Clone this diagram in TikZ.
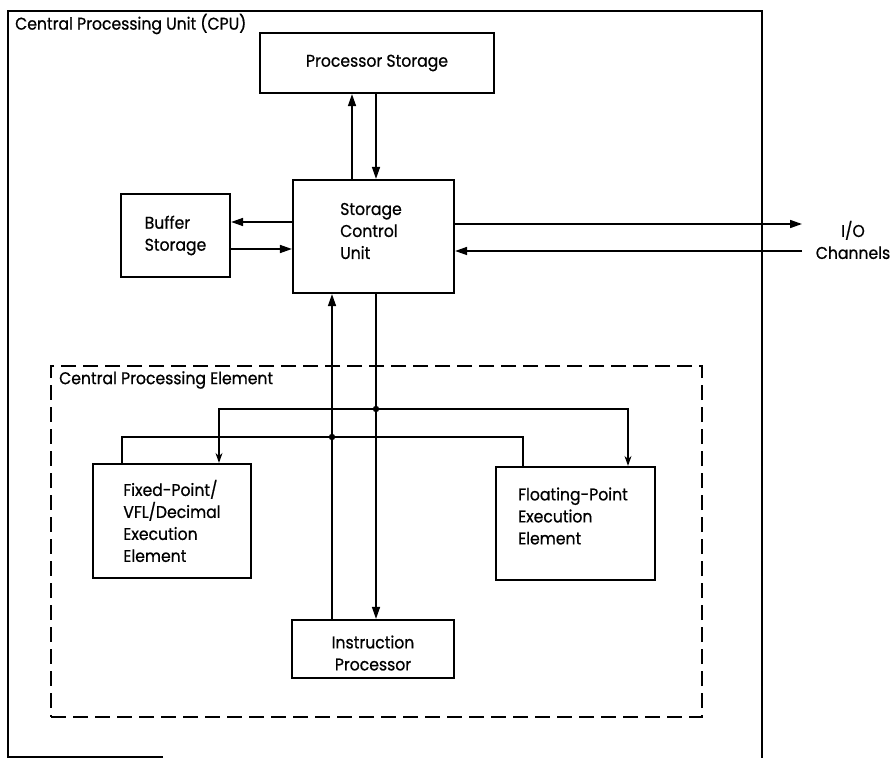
\documentclass[tikz,border=0pt]{standalone}
\usepackage{fontspec}
\setmainfont{Poppins}[FakeBold=0.7, FakeStretch=0.92]
\usetikzlibrary{arrows.meta}
\begin{document}
\begin{tikzpicture}[x=1pt,y=-1pt,
  font=\fontsize{17}{22}\selectfont,
  box/.style={draw, line width=2.2pt, inner sep=0pt},
  frame/.style={line width=2.2pt},
  dashbox/.style={draw, line width=1.8pt, dash pattern=on 15pt off 7pt, inner sep=0pt},
  conn/.style={line width=1.6pt},
  arr/.style={-{Triangle[length=12pt,width=8pt]}},
  bus/.style={line width=1.2pt},
  smallarr/.style={-{Stealth[length=10pt,width=7pt]}},
  lbl/.style={inner sep=0pt}]
\useasboundingbox (0,0) rectangle (891,759);
% outer frame
\draw[frame] (163,757) -- (8,757) -- (8,11) -- (762,11) -- (762,758);
\node[lbl, anchor=west] (cpulbl) at (15,24) {Central Processing Unit (CPU)};
% dashed element box
\node[dashbox, minimum width=651pt, minimum height=351pt] (cpe) at (376.5,541.5) {};
\node[lbl, anchor=west] (cpelbl) at (59,380) {Central Processing Element};
% boxes
\node[box, minimum width=234pt, minimum height=60pt] (ps) at (377,63) {Processor Storage};
\node[box, minimum width=161pt, minimum height=113pt] (scu) at (373.5,236.5) {};
\node[lbl, align=left] (scut) at (371,231) {Storage\\Control\\Unit};
\node[box, minimum width=109pt, minimum height=83pt, align=left] (bs) at (175.5,235.5) {Buffer\\Storage};
\node[box, minimum width=158pt, minimum height=114pt, align=left] (fx) at (172,521) {Fixed-Point/\\VFL/Decimal\\Execution\\Element};
\node[box, minimum width=159pt, minimum height=113pt] (fl) at (575.5,523.5) {};
\node[lbl, align=left] (flt) at (573,516) {Floating-Point\\Execution\\Element};
\node[box, minimum width=162pt, minimum height=58pt] (ip) at (373,649) {};
\node[lbl, align=center] (ipt) at (373,653) {Instruction\\Processor};
\node[lbl, align=center] (io) at (853,240) {I/O\\Channels};
% helper coordinates
\coordinate (vA) at (352,0);
\coordinate (vB) at (376,0);
\coordinate (vC) at (332,0);
\coordinate (hA) at (0,222);
\coordinate (hB) at (0,249);
\coordinate (ioA) at (802,224);
\coordinate (ioB) at (802,251);
\coordinate (j1) at (376,409);
\coordinate (j2) at (332,437);
\coordinate (b1L) at (219,409);
\coordinate (b1R) at (628,409);
\coordinate (b2L) at (122,437);
\coordinate (b2R) at (523,437);
% connectors
\draw[conn,arr] (scu.north -| vA) -- (ps.south -| vA);
\draw[conn,arr] (ps.south -| vB) -- (scu.north -| vB);
\draw[conn,arr] (scu.west |- hA) -- (bs.east |- hA);
\draw[conn,arr] (bs.east |- hB) -- (scu.west |- hB);
\draw[conn,arr] (scu.east |- ioA) -- (ioA);
\draw[conn,arr] (ioB) -- (scu.east |- ioB);
\draw[conn,arr] (ip.north -| vC) -- (scu.south -| vC);
\draw[conn,arr] (scu.south -| vB) -- (ip.north -| vB);
% buses
\draw[bus,smallarr] (j1) -- (b1L) -- (fx.north -| b1L);
\draw[bus,smallarr] (j1) -- (b1R) -- (fl.north -| b1R);
\draw[bus] (j2) -- (b2L) -- (fx.north -| b2L);
\draw[bus] (j2) -- (b2R) -- (fl.north -| b2R);
\fill (j1) circle (3.2pt);
\fill (j2) circle (3.2pt);
\end{tikzpicture}
\end{document}
